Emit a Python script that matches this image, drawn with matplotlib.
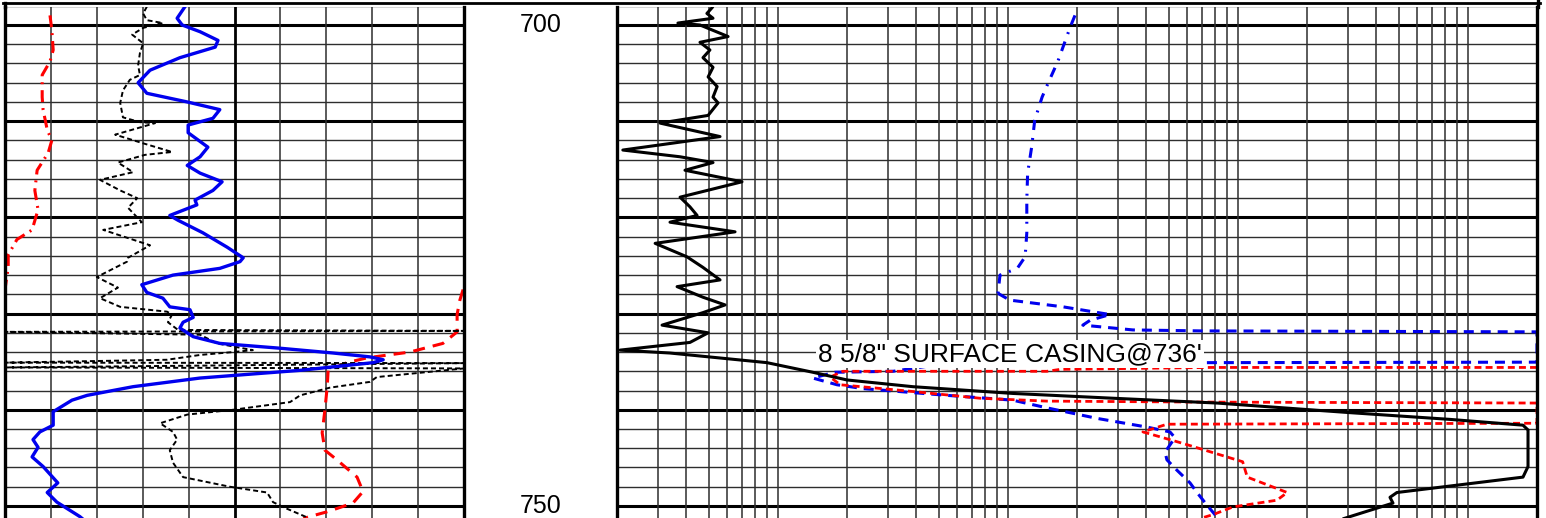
import matplotlib.pyplot as plt
from matplotlib.lines import Line2D
from matplotlib.ticker import NullLocator

plt.rcParams['font.family'] = ['Liberation Sans', 'DejaVu Sans']
plt.rcParams['lines.scale_dashes'] = False

# depth window shown (ft)
top_depth = 698.13
bottom_depth = 751.25
depth_labels = [700, 750]
casing_depth = 734.2
casing_label = '8 5/8" SURFACE CASING@736\''

# ---- track 1 (linear, 0-100 across the track) ----
blue1_depth = [698.1, 699.3, 700.0, 700.7, 701.6, 702.3, 703.4, 704.7, 706.0, 707.1,
               708.0, 708.8, 709.7, 710.4, 711.2, 712.7, 713.7, 714.6, 715.4, 716.3,
               717.2, 718.2, 718.7, 719.8, 720.3, 721.6, 723.1, 724.2, 724.6, 725.3,
               726.0, 727.0, 727.8, 728.4, 729.3, 729.6, 730.4, 730.9, 731.5, 732.4,
               733.1, 733.6, 734.1, 734.5, 734.8, 735.1, 735.9, 736.7, 737.6, 738.5,
               739.0, 740.2, 741.6, 742.3, 743.1, 743.9, 744.9, 745.9, 747.6, 748.6,
               749.6, 751.1, 751.3]
blue1_val = [39.2, 37.5, 38.6, 42.5, 46.4, 45.8, 38.1, 31.6, 29.0, 30.9,
             39.7, 46.8, 45.3, 39.9, 39.9, 44.2, 42.5, 39.7, 42.5, 47.3,
             45.3, 41.4, 41.8, 35.9, 37.7, 43.1, 48.4, 51.9, 51.2, 46.8,
             36.6, 29.8, 30.9, 34.4, 35.9, 40.3, 41.0, 38.8, 38.1, 41.0,
             46.8, 59.9, 71.5, 79.5, 82.4, 80.2, 64.3, 42.5, 27.9, 17.9,
             14.6, 10.5, 10.5, 7.6, 6.1, 7.2, 5.9, 8.3, 11.5, 9.2,
             11.3, 16.3, 16.8]

black1_depth = [698.1, 698.8, 699.5, 699.8, 700.3, 701.0, 701.9, 702.9, 704.2, 705.2,
                705.7, 706.8, 708.1, 709.6, 710.1, 710.2, 711.4, 712.3, 713.2, 713.5,
                714.3, 715.3, 716.1, 717.2, 718.0, 719.0, 720.5, 721.3, 722.9, 724.2,
                724.6, 726.2, 727.3, 728.4, 729.3, 729.8, 730.1, 730.9, 731.7, 731.8,
                731.9, 732.2, 733.1, 733.8, 734.0, 734.3, 734.8, 735.1, 735.15, 735.6,
                735.7, 736.6, 737.1, 737.7, 738.5, 739.2, 740.0, 740.5, 741.4, 742.3,
                743.1, 744.2, 745.5, 747.0, 748.0, 748.6, 749.6, 750.2, 751.1, 751.3]
black1_val = [30.9, 30.1, 30.9, 34.4, 30.1, 27.7, 30.1, 29.4, 29.0, 29.4,
              27.2, 25.7, 25.1, 25.7, 29.4, 32.7, 24.0, 30.1, 36.4, 30.5,
              24.6, 27.9, 20.7, 25.1, 28.8, 26.8, 29.8, 21.4, 31.6, 26.8,
              26.6, 20.0, 24.6, 20.7, 25.1, 35.3, 36.4, 35.5, 37.7, 100.0,
              0.0, 42.5, 46.2, 54.0, 49.7, 42.5, 35.3, 0.0, 100.0, 0.0,
              100.0, 81.0, 79.5, 70.8, 64.3, 62.1, 49.7, 39.7, 33.8, 36.6,
              37.5, 35.9, 36.6, 38.8, 49.0, 57.1, 58.4, 61.0, 65.4, 66.0]

red1_depth = [699.0, 700.5, 702.6, 703.8, 705.2, 707.5, 708.8, 710.9, 712.0, 713.3,
              715.1, 717.2, 719.2, 721.3, 722.3, 723.9, 725.2, 727.5]
red1_val = [9.8, 10.2, 10.5, 9.8, 8.1, 8.1, 8.3, 9.2, 10.2, 9.4,
            7.0, 6.5, 7.2, 5.9, 2.6, 0.7, 0.7, 0.0]

red1w_depth = [727.5, 728.6, 730.1, 731.9, 733.1, 734.0, 734.6, 735.1, 735.9, 737.6,
               740.0, 742.4, 744.2, 745.2, 747.0, 748.5, 749.7, 750.6, 751.1, 751.3]
red1w_val = [99.8, 99.1, 98.5, 98.5, 95.4, 88.2, 78.9, 74.5, 70.4, 70.2,
             69.7, 69.1, 69.7, 72.3, 76.7, 78.0, 75.8, 70.2, 66.4, 65.0]

# ---- track 2 (log, 0.2-2000) ----
black2_depth = [698.2, 698.8, 699.3, 699.8, 700.0, 701.2, 701.8, 702.6, 703.4, 704.4,
                705.4, 706.4, 707.5, 708.1, 709.4, 710.2, 711.6, 713.0, 713.7, 714.3,
                715.1, 716.3, 717.9, 718.9, 719.8, 720.5, 721.5, 722.7, 724.1, 725.2,
                726.5, 727.2, 728.3, 729.1, 729.9, 731.2, 732.0, 733.0, 733.8, 734.1,
                735.1, 736.1, 736.9, 737.6, 738.3, 738.8, 739.3, 740.3, 741.0, 741.6,
                742.1, 745.9, 747.0, 748.6, 749.1, 749.7, 751.1, 751.3]
black2_val = [0.518, 0.492, 0.523, 0.368, 0.459, 0.608, 0.459, 0.507, 0.473, 0.523,
              0.498, 0.545, 0.523, 0.550, 0.498, 0.308, 0.561, 0.212, 0.376, 0.523,
              0.395, 0.699, 0.376, 0.415, 0.446, 0.340, 0.652, 0.293, 0.403, 0.473,
              0.561, 0.365, 0.473, 0.590, 0.473, 0.314, 0.498, 0.415, 0.206, 0.340,
              0.897, 1.42, 2.0, 3.87, 10.5, 28.7, 81.2, 308, 838, 1738,
              1828, 1828, 1738, 492, 459, 473, 308, 290]

blue2_depth = [699.0, 700.2, 703.8, 706.0, 707.5, 709.9, 712.7, 715.4, 718.2, 721.6,
               724.1, 725.3, 726.0, 727.9]
blue2_val = [19.6, 18.7, 16.5, 15.0, 14.1, 13.1, 12.7, 12.2, 12.1, 12.1,
             11.9, 11.0, 9.25, 9.07]

blue2d_depth = [727.9, 728.6, 729.3, 730.1, 730.7, 731.2, 731.7, 731.8, 731.9, 735.05,
                735.1, 735.3, 736.0, 736.1, 736.7, 737.4, 737.8, 738.5, 739.0, 739.8,
                740.9, 741.8, 742.3, 742.9, 744.4, 745.2, 746.3, 747.6, 748.6, 749.9,
                750.9, 751.3]
blue2d_val = [9.07, 10.2, 17.4, 27.8, 22.8, 21.2, 35.0, 68.6, 2000, 2000,
              75.7, 5.0, 3.17, 1.77, 1.42, 1.81, 2.35, 5.44, 10.5, 14.8,
              24.5, 40.3, 50.7, 53.3, 48.3, 49.2, 54.5, 62.0, 66.5, 73.4,
              79.6, 81.2]

red2_depth = [735.6, 735.6, 735.8, 736.0, 736.0, 736.6, 737.4, 738.1, 738.8, 739.1,
              739.2, 739.3, 741.4, 741.5, 742.3, 743.5, 745.4, 747.0, 748.6, 749.4,
              750.1, 750.9, 751.3]
red2_val = [2000, 75.7, 16.9, 14.8, 1.92, 1.69, 1.87, 3.87, 7.57, 14.8,
            68.6, 2000, 2000, 49.2, 38.7, 57.8, 105, 110, 164, 148,
            95.3, 78.0, 68.6]

W, H = 1546, 518
fig = plt.figure(figsize=(W / 100, H / 100), dpi=100)


def px_axes(x0, x1, y0, y1):
    return fig.add_axes([x0 / W, 1 - y1 / H, (x1 - x0) / W, (y1 - y0) / H])


grid_col = '#2e2e2e'

ax1 = px_axes(5, 464, 7, 518)
axd = px_axes(464, 617, 7, 518)
ax2 = px_axes(617, 1537, 7, 518)

# track 2 is logarithmic
ax2.set_xscale('log')
ax2.set_xlim(0.2, 2000)
ax1.set_xlim(0, 100)

for ax in (ax1, ax2, axd):
    ax.set_ylim(bottom_depth, top_depth)
    for axis in (ax.xaxis, ax.yaxis):
        axis.set_major_locator(NullLocator())
        axis.set_minor_locator(NullLocator())
    ax.tick_params(which='both', length=0, labelbottom=False, labelleft=False)
    ax.spines['top'].set_visible(False)
    ax.spines['bottom'].set_visible(False)

for ax in (ax1, ax2):
    for s in ('left', 'right'):
        ax.spines[s].set_linewidth(2.4)
        ax.spines[s].set_zorder(6)
    for d in range(698, 752, 2):
        ax.axhline(d, color='black' if d % 10 == 0 else grid_col,
                   lw=2.2 if d % 10 == 0 else 1.0, zorder=1)

axd.axis('off')
axd.set_xlim(0, 1)
for d in depth_labels:
    axd.text(0.5, d, str(d), fontsize=18, ha='center', va='center')

# track 1 grid
for v in range(10, 100, 10):
    ax1.axvline(v, color='black' if v == 50 else grid_col,
                lw=2.0 if v == 50 else 1.1, zorder=1)

# track 2 grid (log)
for dec in (0.1, 1, 10, 100, 1000):
    for m in range(1, 10):
        v = dec * m
        if 0.2 < v < 2000:
            ax2.axvline(v, color=grid_col, lw=1.1, zorder=1)

# curves, track 1
ax1.plot(red1_val, red1_depth, color='red', lw=2.2, ls=(0, (8.6, 4.3, 1.4, 4.3)), zorder=3)
ax1.plot(red1w_val, red1w_depth, color='red', lw=2.2, ls=(0, (8.6, 5.8)), zorder=3)
ax1.plot(black1_val, black1_depth, color='black', lw=1.4, ls=(0, (3.6, 2.2)), zorder=3)
ax1.plot(blue1_val, blue1_depth, color='#0000ee', lw=2.4, zorder=4)

# curves, track 2
ax2.plot(blue2_val, blue2_depth, color='#0000ee', lw=2.2, ls=(0, (7.2, 5.8, 1.4, 5.8)), zorder=3)
ax2.plot(blue2d_val, blue2d_depth, color='#0000ee', lw=2.2, ls=(0, (7.2, 5.0)), zorder=3)
ax2.plot(red2_val, red2_depth, color='red', lw=2.0, ls=(0, (5.0, 3.0)), zorder=3)
ax2.plot(black2_val, black2_depth, color='black', lw=2.2, zorder=4)

ax2.text(1.50, casing_depth, casing_label, fontsize=19, ha='left', va='center',
         bbox=dict(facecolor='white', edgecolor='none', pad=1.5), zorder=10)

# header frame line along the top
fig.add_artist(Line2D([3 / W, 1540 / W], [1 - 2.5 / H] * 2, color='black', lw=2.0))
fig.add_artist(Line2D([4.5 / W] * 2, [1 - 2.5 / H, 1 - 7 / H], color='black', lw=2.4))
fig.add_artist(Line2D([1538 / W] * 2, [1.0, 1 - 7 / H], color='black', lw=2.4))

fig.savefig('out.png', dpi=100)
